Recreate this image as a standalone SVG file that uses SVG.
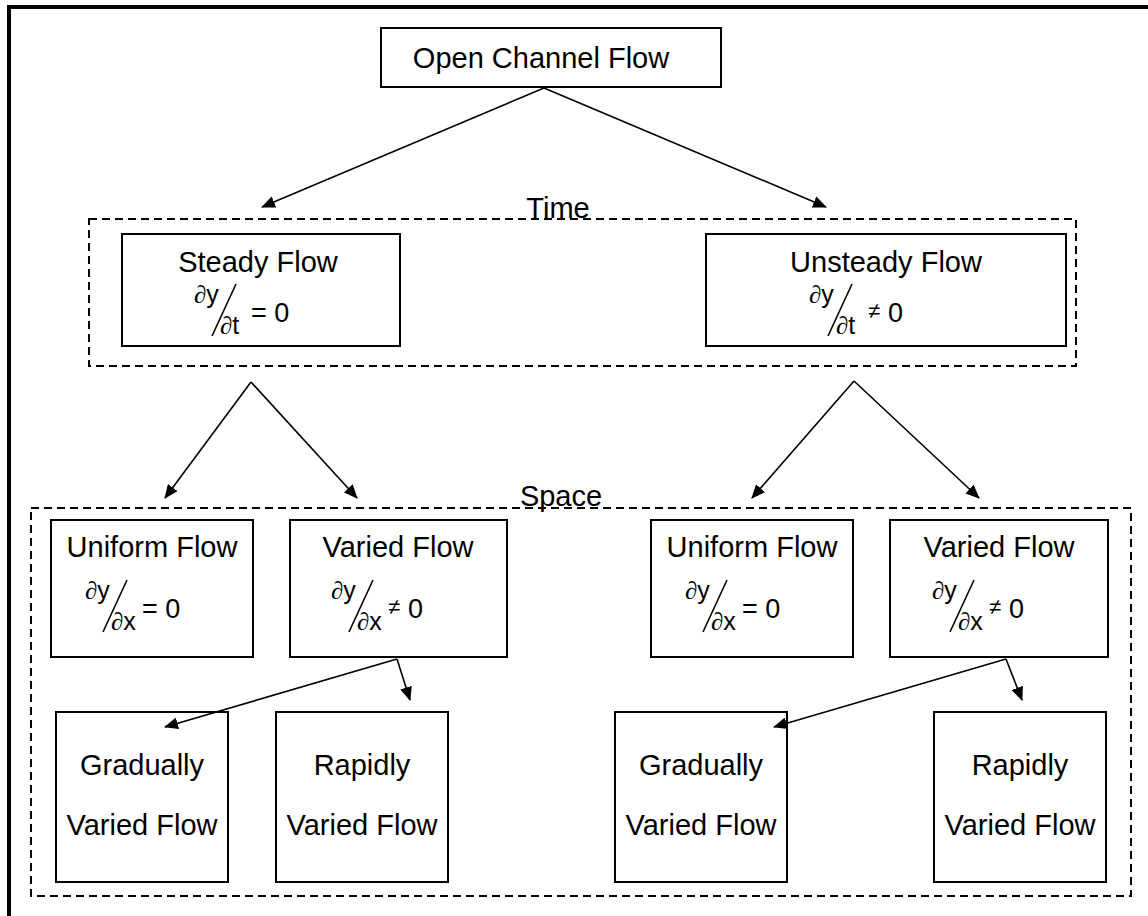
<svg xmlns="http://www.w3.org/2000/svg" width="1148" height="916" viewBox="0 0 1148 916">
<style>
.box{fill:#fff;stroke:#000;stroke-width:2}
.dash{fill:none;stroke:#000;stroke-width:2;stroke-dasharray:8 5}
.frame{fill:none;stroke:#000;stroke-width:4}
.con{fill:none;stroke:#000;stroke-width:1.6}
.t{font-family:"Liberation Sans",Arial,sans-serif;font-size:29px;fill:#000;text-anchor:middle}
.m{font-family:"Liberation Sans",Arial,sans-serif;font-size:25px;fill:#000}
.d{font-family:"Liberation Serif","Times New Roman",serif;font-style:italic}
.e{font-family:"Liberation Sans",Arial,sans-serif;font-size:27px;fill:#000}
.ne{font-family:"Liberation Sans",Arial,sans-serif;font-size:22px;fill:#000}
.sl{stroke:#000;stroke-width:1.6}
</style>
<defs>
<marker id="ah" markerUnits="userSpaceOnUse" markerWidth="14" markerHeight="12" refX="13" refY="6" orient="auto">
<path d="M0,0 L14,6 L0,12 Z" fill="#000"/>
</marker>
</defs>
<rect x="0" y="0" width="1148" height="916" fill="#fff"/>
<rect class="frame" x="9" y="7" width="1200" height="1000"/>
<g id="time-group">
<rect class="dash" x="89" y="219" width="987" height="147"/>
<text class="t" x="558" y="218">Time</text>
</g>
<g id="space-group">
<rect class="dash" x="31" y="508" width="1100" height="388"/>
<text class="t" x="561" y="506">Space</text>
</g>
<g id="open-channel">
<rect class="box" x="381" y="28" width="340" height="59"/>
<text class="t" x="541" y="68">Open Channel Flow</text>
</g>
<g id="steady">
<rect class="box" x="122" y="234" width="278" height="112"/>
<text class="t" x="258" y="272">Steady Flow</text>
<text class="m" x="194" y="303"><tspan class="d">∂</tspan>y</text>
<line class="sl" x1="236" y1="284" x2="212" y2="336"/>
<text class="m" x="220" y="334"><tspan class="d">∂</tspan>t</text>
<text class="e" x="251" y="322">= 0</text>
</g>
<g id="unsteady">
<rect class="box" x="706" y="234" width="360" height="112"/>
<text class="t" x="886" y="272">Unsteady Flow</text>
<text class="m" x="809" y="303"><tspan class="d">∂</tspan>y</text>
<line class="sl" x1="852" y1="284" x2="828" y2="336"/>
<text class="m" x="836" y="334"><tspan class="d">∂</tspan>t</text>
<text class="ne" x="868" y="318">≠</text>
<text class="e" x="888" y="322">0</text>
</g>
<g id="uniform-1">
<rect class="box" x="51" y="520" width="202" height="137"/>
<text class="t" x="152" y="557">Uniform Flow</text>
<text class="m" x="85" y="599"><tspan class="d">∂</tspan>y</text>
<line class="sl" x1="127" y1="580" x2="103" y2="632"/>
<text class="m" x="111" y="630"><tspan class="d">∂</tspan>x</text>
<text class="e" x="142" y="618">= 0</text>
</g>
<g id="varied-1">
<rect class="box" x="290" y="520" width="217" height="137"/>
<text class="t" x="398" y="557">Varied Flow</text>
<text class="m" x="331" y="599"><tspan class="d">∂</tspan>y</text>
<line class="sl" x1="373" y1="580" x2="349" y2="632"/>
<text class="m" x="357" y="630"><tspan class="d">∂</tspan>x</text>
<text class="ne" x="388" y="614">≠</text>
<text class="e" x="408" y="618">0</text>
</g>
<g id="uniform-2">
<rect class="box" x="651" y="520" width="202" height="137"/>
<text class="t" x="752" y="557">Uniform Flow</text>
<text class="m" x="685" y="599"><tspan class="d">∂</tspan>y</text>
<line class="sl" x1="727" y1="580" x2="703" y2="632"/>
<text class="m" x="711" y="630"><tspan class="d">∂</tspan>x</text>
<text class="e" x="742" y="618">= 0</text>
</g>
<g id="varied-2">
<rect class="box" x="890" y="520" width="218" height="137"/>
<text class="t" x="999" y="557">Varied Flow</text>
<text class="m" x="932" y="599"><tspan class="d">∂</tspan>y</text>
<line class="sl" x1="974" y1="580" x2="950" y2="632"/>
<text class="m" x="958" y="630"><tspan class="d">∂</tspan>x</text>
<text class="ne" x="989" y="614">≠</text>
<text class="e" x="1009" y="618">0</text>
</g>
<g id="gradually-1">
<rect class="box" x="56" y="712" width="172" height="170"/>
<text class="t" x="142" y="775">Gradually</text>
<text class="t" x="142" y="835">Varied Flow</text>
</g>
<g id="rapidly-1">
<rect class="box" x="276" y="712" width="172" height="170"/>
<text class="t" x="362" y="775">Rapidly</text>
<text class="t" x="362" y="835">Varied Flow</text>
</g>
<g id="gradually-2">
<rect class="box" x="615" y="712" width="172" height="170"/>
<text class="t" x="701" y="775">Gradually</text>
<text class="t" x="701" y="835">Varied Flow</text>
</g>
<g id="rapidly-2">
<rect class="box" x="934" y="712" width="172" height="170"/>
<text class="t" x="1020" y="775">Rapidly</text>
<text class="t" x="1020" y="835">Varied Flow</text>
</g>
<g id="connectors">
<line class="con" x1="544" y1="88" x2="262" y2="207" marker-end="url(#ah)"/>
<line class="con" x1="544" y1="88" x2="826" y2="207" marker-end="url(#ah)"/>
<line class="con" x1="251" y1="382" x2="165" y2="498" marker-end="url(#ah)"/>
<line class="con" x1="251" y1="382" x2="357" y2="498" marker-end="url(#ah)"/>
<line class="con" x1="854" y1="381" x2="752" y2="498" marker-end="url(#ah)"/>
<line class="con" x1="854" y1="381" x2="979" y2="498" marker-end="url(#ah)"/>
<line class="con" x1="397" y1="659" x2="165" y2="727" marker-end="url(#ah)"/>
<line class="con" x1="397" y1="659" x2="410" y2="700" marker-end="url(#ah)"/>
<line class="con" x1="1006" y1="659" x2="774" y2="727" marker-end="url(#ah)"/>
<line class="con" x1="1006" y1="659" x2="1022" y2="700" marker-end="url(#ah)"/>
</g>
</svg>
